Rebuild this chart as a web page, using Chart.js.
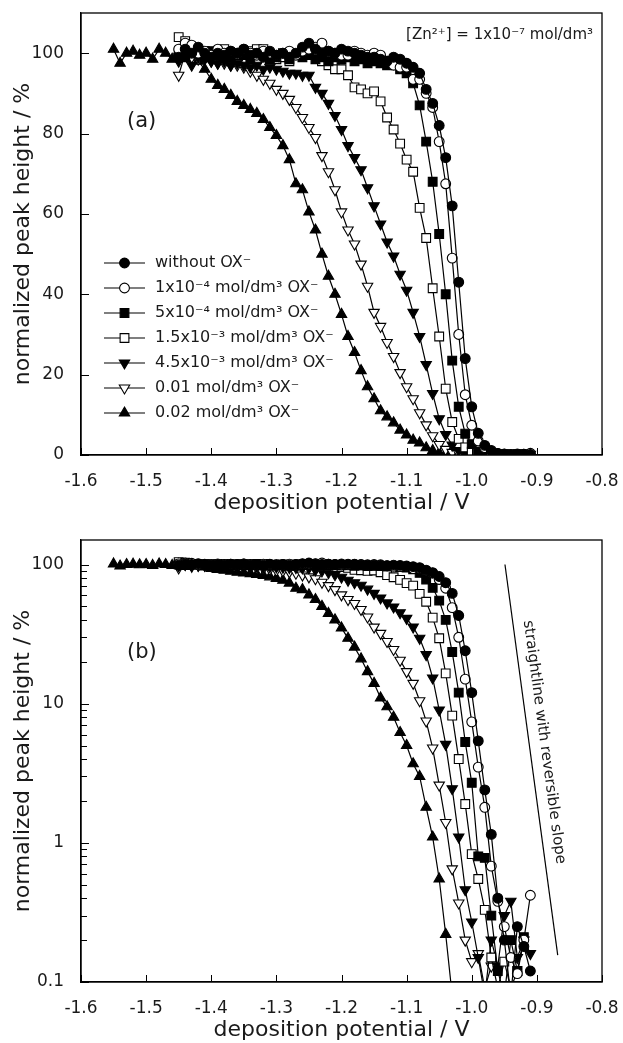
<!DOCTYPE html>
<html>
<head>
<meta charset="utf-8">
<script src="https://cdn.jsdelivr.net/npm/chart.js@4.4.1/dist/chart.umd.min.js"></script>
<style>
  html, body { margin: 0; padding: 0; background: #fff; }
  #wrap { position: relative; width: 623px; height: 1043px; }
  canvas { position: absolute; left: 0; }
  #top { top: 0; }
  #bottom { top: 520px; }
</style>
</head>
<body>
<div id="wrap">
  <canvas id="top" width="623" height="520"></canvas>
  <canvas id="bottom" width="623" height="523"></canvas>
</div>
<script>
// deposition potential / V (10 mV steps)
const potentials = [-1.55,-1.54,-1.53,-1.52,-1.51,-1.50,-1.49,-1.48,-1.47,-1.46,
  -1.45,-1.44,-1.43,-1.42,-1.41,-1.40,-1.39,-1.38,-1.37,-1.36,
  -1.35,-1.34,-1.33,-1.32,-1.31,-1.30,-1.29,-1.28,-1.27,-1.26,
  -1.25,-1.24,-1.23,-1.22,-1.21,-1.20,-1.19,-1.18,-1.17,-1.16,
  -1.15,-1.14,-1.13,-1.12,-1.11,-1.10,-1.09,-1.08,-1.07,-1.06,
  -1.05,-1.04,-1.03,-1.02,-1.01,-1.00,-0.99,-0.98,-0.97,-0.96,
  -0.95,-0.94,-0.93,-0.92,-0.91,-0.90];

// normalized peak height / %, one entry per potential
const withoutOx = [null,null,null,null,null,null,null,null,null,null,
  99,101,100,101.5,100,99,100,99.5,100.5,100,
  101,99.5,100,99,100.5,99.5,100,99,100,101.5,
  102.5,101,100,100.5,100,101,100.5,100,99.5,99,
  99,98.5,98,99,98.5,97.5,96.5,95,91,87.5,
  82,74,62,43,24,12,5.4,2.4,1.15,0.4,
  0.2,0.08,0.25,0.18,0.12,null];
const ox1e4 = [null,null,null,null,null,null,null,null,null,null,
  101,102.5,102,100,100.5,99.5,101,100,100.5,100,
  101,100,99.5,100.5,100,99.5,100,100.5,99.5,100.5,
  101,101.5,102.5,100.5,100,99.5,99.5,100.5,100,99.5,
  100,99.5,98,97,96.5,96.5,93.5,93.5,90,86.5,
  78,67.5,49,30,15,7.4,3.5,1.8,0.68,0.38,
  0.25,0.15,0.115,0.2,0.42,null];
const ox5e4 = [null,null,null,null,null,null,null,null,null,null,
  100,99,101,100,99,100.5,99.5,100,99,100,
  99.5,98.5,100,99.5,98.5,99,100,98.5,99.5,99,
  99.5,98.5,99,98,99,98.5,99,98,98.5,97.5,
  98,97.5,97,97.5,96,95,92.5,87,78,68,
  55,40,23.5,12,5.3,2.7,0.8,0.78,0.3,0.12,
  0.08,0.2,0.12,0.21,null,null];
const ox15e3 = [null,null,null,null,null,null,null,null,null,null,
  104,103,101,100,100.5,99,100,101,100,99.5,
  100,100.5,101,101,99.5,98.5,99,98,99.5,100,
  101,100.5,98,97,96,96,94.5,91.5,91,90,
  90.5,88,84,81,77.5,73.5,70.5,61.5,54,41.5,
  29.5,16.5,8.2,4,1.9,0.83,0.55,0.33,0.15,0.09,
  0.14,0.09,0.12,null,null,null];
const ox45e3 = [null,null,null,null,null,null,null,null,null,null,
  98,100,97,99,98.5,98,97.5,98,97,97.5,
  97,96.5,97,96,96.5,96,95.5,95,95,94.5,
  94.5,91.5,90,87.5,84.5,81,77,74,71,66.5,
  62,57.5,53,49.5,45,41,35.5,29.5,22.5,15.3,
  9,5.1,2.45,1.1,0.46,0.27,0.15,0.08,0.2,0.13,
  0.3,0.38,0.15,0.2,0.16,null];
const ox001 = [null,null,null,null,null,null,null,null,null,null,
  94.5,100,99,98.5,99,98,97.5,97.5,97,97,
  96.5,95.5,94.5,93.5,92.5,91,90,88.5,86.5,84,
  81.5,79,74.5,70.5,66,60.5,56,52.5,47.5,42,
  35.5,32,28,24.5,20.5,17,14,10.5,7.5,4.8,
  2.6,1.4,0.65,0.37,0.2,0.14,0.16,0.09,0.13,null,
  null,null,null,null,null,null];
const ox002 = [101,97.5,100,100.5,99.5,100,98.5,101,100,98.5,
  100.5,99.5,99,98,96,93.5,92,91,89.5,88,
  87,86,85,83.5,81.5,79.5,77,73.5,67.5,66,
  60.5,56,50,44.5,40,35,29.5,25.5,21,17,
  14,11,9.5,8,6.2,5,3.7,3,1.8,1.1,
  0.55,0.22,0.08,null,null,null,null,null,null,null,
  null,null,null,null,null,null];

const seriesLabels = ['without OX⁻', '1x10⁻⁴ mol/dm³ OX⁻', '5x10⁻⁴ mol/dm³ OX⁻',
  '1.5x10⁻³ mol/dm³ OX⁻', '4.5x10⁻³ mol/dm³ OX⁻', '0.01 mol/dm³ OX⁻', '0.02 mol/dm³ OX⁻'];
const seriesValues = [withoutOx, ox1e4, ox5e4, ox15e3, ox45e3, ox001, ox002];

// reversible-slope reference line (panel b)
const refLineE = [-0.949, -0.868];
const refLineH = [100, 0.156];

const xTicks = [-1.6,-1.5,-1.4,-1.3,-1.2,-1.1,-1.0,-0.9,-0.8];
const linTicks = [0,20,40,60,80,100];
const logTicks = [0.1,0.2,0.3,0.4,0.5,0.6,0.7,0.8,0.9,1,2,3,4,5,6,7,8,9,10,20,30,40,50,60,70,80,90,100];
const logLabels = [0.1,1,10,100];

const FONT = '"DejaVu Sans", Verdana, sans-serif';
const INK = '#1a1a1a';
Chart.defaults.font.family = FONT;
Chart.defaults.color = INK;

const markers = [
  {style: 'circle', rot: 0, r: 4.9, fill: '#000'},
  {style: 'circle', rot: 0, r: 4.9, fill: '#fff'},
  {style: 'rect', rot: 0, r: 6.2, fill: '#000'},
  {style: 'rect', rot: 0, r: 6.2, fill: '#fff'},
  {style: 'triangle', rot: 180, r: 6, fill: '#000'},
  {style: 'triangle', rot: 180, r: 6, fill: '#fff'},
  {style: 'triangle', rot: 0, r: 6, fill: '#000'}
];

function buildDatasets() {
  return seriesValues.map((vals, k) => ({
    label: seriesLabels[k],
    data: potentials.map((e, i) => ({x: e, y: vals[i]})).filter(p => p.y !== null),
    borderColor: '#000',
    borderWidth: 1.2,
    pointStyle: markers[k].style,
    pointRotation: markers[k].rot,
    pointRadius: markers[k].r,
    pointHoverRadius: markers[k].r,
    pointBackgroundColor: markers[k].fill,
    pointBorderColor: '#000',
    pointBorderWidth: 1.1,
    tension: 0,
    fill: false
  }));
}

function xAxis(axisH, titlePad) {
  return {
    type: 'linear', min: -1.6, max: -0.8,
    afterBuildTicks: s => { s.ticks = xTicks.map(v => ({value: v})); },
    afterFit: s => { s.height = axisH; s.paddingLeft = 0; s.paddingRight = 0; },
    grid: {display: false},
    border: {display: true, color: '#000', width: 1.3},
    ticks: {padding: 8, font: {size: 17}, color: INK, maxRotation: 0, autoSkip: false,
      callback: v => v.toFixed(1)},
    title: {display: true, text: 'deposition potential / V', color: INK,
      font: {size: 22}, padding: {top: 0, bottom: titlePad}}
  };
}

function yCommon() {
  return {
    afterFit: s => { s.width = 81; s.paddingTop = 0; s.paddingBottom = 0; },
    grid: {display: false},
    border: {display: true, color: '#000', width: 1.3},
    title: {display: true, text: 'normalized peak height / %', color: INK,
      font: {size: 22}, padding: {top: 10, bottom: 0}}
  };
}

// box around the plot and tick marks pointing inwards
const frameTicks = {
  id: 'frameTicks',
  afterDraw(chart) {
    const {ctx, chartArea: a, scales} = chart;
    ctx.save();
    ctx.strokeStyle = '#000';
    ctx.lineWidth = 1.3;
    ctx.strokeRect(a.left, a.top, a.right - a.left, a.bottom - a.top);
    ctx.lineWidth = 1;
    ctx.beginPath();
    scales.x.ticks.forEach(t => {
      const px = Math.round(scales.x.getPixelForValue(t.value)) + 0.5;
      ctx.moveTo(px, a.bottom); ctx.lineTo(px, a.bottom - 7);
    });
    scales.y.ticks.forEach(t => {
      const py = Math.round(scales.y.getPixelForValue(t.value)) + 0.5;
      const len = t.major === false ? 6 : 8;
      ctx.moveTo(a.left, py); ctx.lineTo(a.left + len, py);
    });
    ctx.stroke();
    ctx.restore();
  }
};

// free text placed in the panel
const panelText = {
  id: 'panelText',
  afterDraw(chart, args, opts) {
    const ctx = chart.ctx;
    (opts.items || []).forEach(it => {
      ctx.save();
      ctx.fillStyle = INK;
      ctx.font = it.size + 'px ' + FONT;
      ctx.textAlign = it.align || 'left';
      ctx.textBaseline = 'middle';
      ctx.fillText(it.text, it.x, it.y);
      ctx.restore();
    });
  }
};

// legend drawn inside the plot of panel (a)
const legendBox = {
  id: 'legendBox',
  afterDraw(chart, args, opts) {
    const ctx = chart.ctx;
    chart.data.datasets.forEach((ds, i) => {
      const y = opts.top + i * opts.step;
      ctx.save();
      ctx.strokeStyle = '#000';
      ctx.lineWidth = 1.2;
      ctx.beginPath();
      ctx.moveTo(opts.x0, y); ctx.lineTo(opts.x1, y);
      ctx.stroke();
      ctx.fillStyle = ds.pointBackgroundColor;
      ctx.strokeStyle = '#000';
      ctx.lineWidth = 1.1;
      Chart.helpers.drawPoint(ctx, {pointStyle: ds.pointStyle, rotation: ds.pointRotation,
        radius: ds.pointRadius, borderWidth: 1.1}, (opts.x0 + opts.x1) / 2, y);
      ctx.fillStyle = INK;
      ctx.font = opts.size + 'px ' + FONT;
      ctx.textBaseline = 'middle';
      ctx.fillText(ds.label, opts.textX, y);
      ctx.restore();
    });
  }
};

// rotated label running along the reference line
const slopeLabel = {
  id: 'slopeLabel',
  afterDraw(chart, args, opts) {
    const {ctx, scales: {x, y}} = chart;
    const x1 = x.getPixelForValue(refLineE[0]), y1 = y.getPixelForValue(refLineH[0]);
    const x2 = x.getPixelForValue(refLineE[1]), y2 = y.getPixelForValue(refLineH[1]);
    const ang = Math.atan2(y2 - y1, x2 - x1);
    const len = Math.hypot(x2 - x1, y2 - y1);
    const dx = (x2 - x1) / len, dy = (y2 - y1) / len;
    const cx = x1 + (x2 - x1) * opts.at + dy * opts.offset;
    const cy = y1 + (y2 - y1) * opts.at - dx * opts.offset;
    ctx.save();
    ctx.translate(cx, cy);
    ctx.rotate(ang);
    ctx.fillStyle = INK;
    ctx.font = opts.size + 'px ' + FONT;
    ctx.textAlign = 'center';
    ctx.textBaseline = 'middle';
    ctx.fillText(opts.text, 0, 0);
    ctx.restore();
  }
};

// panel (a): linear scale
new Chart(document.getElementById('top'), {
  type: 'line',
  data: {datasets: buildDatasets()},
  options: {
    responsive: false,
    animation: false,
    layout: {padding: {top: 13, right: 21, left: 0, bottom: 0}},
    plugins: {
      legend: {display: false},
      tooltip: {enabled: false},
      legendBox: {top: 263, step: 25, x0: 104, x1: 145, textX: 155, size: 16},
      panelText: {items: [
        {text: '[Zn²⁺] = 1x10⁻⁷ mol/dm³', x: 593, y: 35, size: 15, align: 'right'},
        {text: '(a)', x: 127, y: 122, size: 21}
      ]}
    },
    scales: {
      x: xAxis(65, 4),
      y: Object.assign(yCommon(), {
        type: 'linear', min: 0, max: 110,
        afterBuildTicks: s => { s.ticks = linTicks.map(v => ({value: v})); },
        ticks: {padding: 9, font: {size: 17}, color: INK, autoSkip: false}
      })
    }
  },
  plugins: [frameTicks, legendBox, panelText]
});

// panel (b): logarithmic scale
const logSets = buildDatasets();
logSets.push({
  label: 'straightline with reversible slope',
  data: refLineE.map((e, i) => ({x: e, y: refLineH[i]})),
  borderColor: '#000', borderWidth: 1.2, pointRadius: 0, pointHoverRadius: 0, fill: false
});

new Chart(document.getElementById('bottom'), {
  type: 'line',
  data: {datasets: logSets},
  options: {
    responsive: false,
    animation: false,
    layout: {padding: {top: 20, right: 21, left: 0, bottom: 0}},
    plugins: {
      legend: {display: false},
      tooltip: {enabled: false},
      panelText: {items: [{text: '(b)', x: 127, y: 133, size: 21}]},
      slopeLabel: {text: 'straightline with reversible slope', at: 0.46, offset: 15, size: 15}
    },
    scales: {
      x: xAxis(61, 0),
      y: Object.assign(yCommon(), {
        type: 'logarithmic', min: 0.1, max: 150,
        afterBuildTicks: s => { s.ticks = logTicks.map(v => ({value: v, major: logLabels.includes(v)})); },
        ticks: {padding: 9, font: {size: 17}, color: INK, autoSkip: false,
          callback: v => logLabels.includes(v) ? String(v) : ''}
      })
    }
  },
  plugins: [frameTicks, panelText, slopeLabel]
});
</script>
</body>
</html>
